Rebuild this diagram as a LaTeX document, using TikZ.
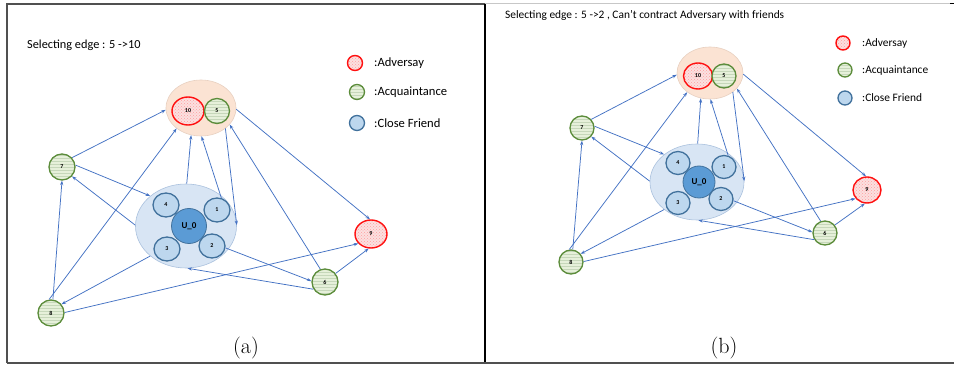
\documentclass[tikz,border=0pt]{standalone}
\usepackage{fontspec}
\setsansfont{Carlito}
\usetikzlibrary{shapes.geometric,patterns,arrows.meta}
\definecolor{arrblue}{HTML}{4472C4}
\definecolor{advred}{HTML}{FF1010}
\definecolor{advfill}{HTML}{FBE0E0}
\definecolor{acqgreen}{HTML}{5B8C3A}
\definecolor{acqfill}{HTML}{E6F0DA}
\definecolor{cfborder}{HTML}{41719C}
\definecolor{cffill}{HTML}{BDD7EE}
\definecolor{ufill}{HTML}{5B9BD5}
\definecolor{bigfill}{HTML}{D8E5F4}
\definecolor{bigborder}{HTML}{ABC2DE}
\definecolor{topfill}{HTML}{FBE3D3}
\definecolor{topborder}{HTML}{E8D0C0}
\definecolor{frame}{HTML}{505050}
\newcommand\panelEdges[1]{%
 \draw[edge] (#1n7.43) -- (#1T.183);
 \draw[edge] (#1n7.8) -- (#1B.140);
 \draw[edge] (#1B.179) -- (#1n7.317);
 \draw[edge] (#1n8.82) -- (#1n7.270);
 \draw[edge] (#1n8.98) -- (#1T.220);
 \draw[edge] (#1B.220) -- (#1n8.40);
 \draw[edge] (#1n8.2) -- (#1n9.217);
 \draw[edge] (#1B.89) -- (#1T.250);
 \draw[edge] (#1n1.70) -- (#1T.271);
 \draw[edge] (#1T.320) -- (#1B.1);
 \draw[edge] (#1n6.110) -- (#1T.330);
 \draw[edge] (#1T.358) -- (#1n9.94);
 \draw[edge] (#1n2.352) -- (#1n6.176);
 \draw[edge] (#1n6.212) -- (#1B.272);
 \draw[edge] (#1n6.39) -- (#1n9.261);
}
\begin{document}
\begin{tikzpicture}[x=1pt,y=-1pt,
  edge/.style={draw=arrblue,line width=0.75pt,-{Stealth[length=4.5pt,width=3.2pt]}},
  lbl/.style={font=\sffamily\bfseries\fontsize{6}{7}\selectfont,text=black},
  adv/.style={ellipse,draw=advred,line width=1.4pt,inner sep=0pt,
     preaction={fill=advfill},pattern=crosshatch dots,pattern color=advred!40,lbl},
  acq/.style={ellipse,draw=acqgreen,line width=1.3pt,inner sep=0pt,
     preaction={fill=acqfill},pattern=horizontal lines,pattern color=acqgreen!35,lbl},
  cf/.style={ellipse,draw=cfborder,line width=1.3pt,fill=cffill,inner sep=0pt,lbl},
  uo/.style={circle,draw=cfborder,line width=0.8pt,fill=ufill,inner sep=0pt,
     font=\sffamily\bfseries\fontsize{9}{10}\selectfont},
  bigell/.style={ellipse,draw=bigborder,line width=0.6pt,fill=bigfill,inner sep=0pt},
  topell/.style={ellipse,draw=topborder,line width=0.6pt,fill=topfill,inner sep=0pt},
  legtxt/.style={anchor=west,font=\sffamily,inner sep=0pt},
  captxt/.style={font=\fontsize{22}{24}\selectfont,inner sep=0pt}
]
\useasboundingbox (0,0) rectangle (954,366);
\fill[white] (0,0) rectangle (954,366);
% frame
\draw[frame,line width=1.3pt] (7,363) -- (7,4) -- (485,4);
\draw[black,line width=1.3pt] (485,4) -- (485,363);
\draw[black!22,line width=1pt] (485,4) -- (950,4);
\draw[black,line width=1pt] (950,4) -- (954,4);
\draw[frame,line width=1.6pt] (7,363) -- (954,363);

% ================= panel (a)
\node[legtxt,font=\sffamily\fontsize{12.3}{14}\selectfont] (atitle) at (27,45) {Selecting edge : 5 ->10};
\node[adv,minimum width=15pt,minimum height=15pt] (alegA) at (355,63) {};
\node[acq,minimum width=15pt,minimum height=15pt] (alegB) at (357,92) {};
\node[cf,minimum width=15pt,minimum height=15pt] (alegC) at (357,123) {};
\node[legtxt,font=\sffamily\fontsize{12.6}{14}\selectfont] (alegAt) at (374,63) {:Adversay};
\node[legtxt,font=\sffamily\fontsize{12.6}{14}\selectfont] (alegBt) at (374,92) {:Acquaintance};
\node[legtxt,font=\sffamily\fontsize{12.6}{14}\selectfont] (alegCt) at (374,123) {:Close Friend};

\node[topell,minimum width=70pt,minimum height=56pt] (aT) at (201,108) {};
\node[adv,minimum width=32pt,minimum height=28pt] (an10) at (188,111) {10};
\node[acq,minimum width=25pt,minimum height=25pt] (an5) at (217,111) {5};

\node[bigell,minimum width=101pt,minimum height=84pt] (aB) at (186,226) {};
\node[uo,minimum size=35pt] (aU) at (189,226) {U\_0};
\node[cf,minimum width=26pt,minimum height=24pt] (an4) at (166,205) {4};
\node[cf,minimum width=26pt,minimum height=24pt] (an1) at (217,210) {1};
\node[cf,minimum width=26pt,minimum height=24pt] (an3) at (167,249) {3};
\node[cf,minimum width=26pt,minimum height=24pt] (an2) at (212,246) {2};

\node[acq,minimum width=26pt,minimum height=26pt] (an7) at (62,167) {7};
\node[acq,minimum width=26pt,minimum height=26pt] (an8) at (51,313) {8};
\node[acq,minimum width=26pt,minimum height=26pt] (an6) at (325,282) {6};
\node[adv,minimum width=32pt,minimum height=28pt] (an9) at (371,234) {9};

\panelEdges{a}
\node[captxt] (acap) at (246,348) {(a)};

% ================= panel (b)
\node[legtxt,font=\sffamily\fontsize{11.4}{13}\selectfont] (btitle) at (505,15) {Selecting edge : 5 ->2 , Can’t contract Adversary with friends};
\node[adv,minimum width=14pt,minimum height=14pt] (blegA) at (843,43) {};
\node[acq,minimum width=14pt,minimum height=14pt] (blegB) at (845,70) {};
\node[cf,minimum width=14pt,minimum height=14pt] (blegC) at (845,98) {};
\node[legtxt,font=\sffamily\fontsize{11.4}{13}\selectfont] (blegAt) at (862,43) {:Adversay};
\node[legtxt,font=\sffamily\fontsize{11.4}{13}\selectfont] (blegBt) at (862,70) {:Acquaintance};
\node[legtxt,font=\sffamily\fontsize{11.4}{13}\selectfont] (blegCt) at (862,98) {:Close Friend};

\node[topell,minimum width=66pt,minimum height=52pt] (bT) at (710,73) {};
\node[adv,minimum width=29pt,minimum height=26pt] (bn10) at (698,76) {10};
\node[acq,minimum width=24pt,minimum height=24pt] (bn5) at (724,76) {5};

\node[bigell,minimum width=94pt,minimum height=76pt] (bB) at (697,182) {};
\node[uo,minimum size=32pt] (bU) at (699,182) {U\_0};
\node[cf,minimum width=24pt,minimum height=23pt] (bn4) at (678,163) {4};
\node[cf,minimum width=24pt,minimum height=23pt] (bn1) at (724,167) {1};
\node[cf,minimum width=24pt,minimum height=23pt] (bn3) at (678,203) {3};
\node[cf,minimum width=24pt,minimum height=23pt] (bn2) at (721,199) {2};

\node[acq,minimum width=24pt,minimum height=24pt] (bn7) at (582,128) {7};
\node[acq,minimum width=24pt,minimum height=24pt] (bn8) at (571,262) {8};
\node[acq,minimum width=24pt,minimum height=24pt] (bn6) at (825,233) {6};
\node[adv,minimum width=28pt,minimum height=26pt] (bn9) at (867,190) {9};

\panelEdges{b}
\node[captxt] (bcap) at (724,348) {(b)};
\end{tikzpicture}
\end{document}
